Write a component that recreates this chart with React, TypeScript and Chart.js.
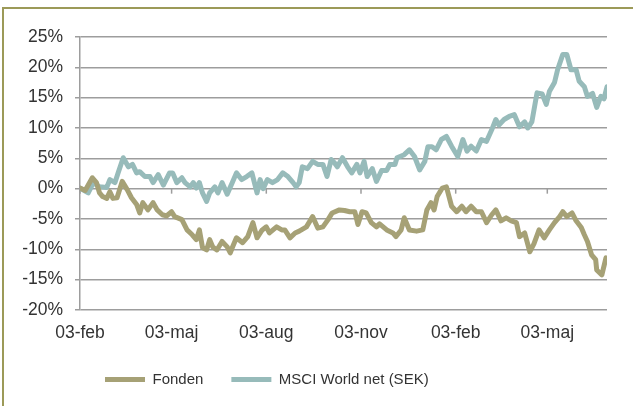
import React, { useEffect, useRef } from "react";
import { Chart, registerables } from "chart.js";

Chart.register(...registerables);

// x positions are days since the first 03-feb
const tickDays = [0, 89, 181, 273, 365, 454];
const tickLabels = ["03-feb", "03-maj", "03-aug", "03-nov", "03-feb", "03-maj"];

const fondenDays = [
  0, 5, 12, 16, 19, 22, 26, 29, 32, 36, 41, 46, 50, 55, 58, 61, 66, 71, 75, 80,
  84, 89, 92, 99, 104, 109, 113, 116, 119, 123, 126, 129, 133, 138, 143, 146, 148, 152, 158, 163,
  168, 172, 177, 181, 184, 191, 196, 199, 204, 209, 213, 220, 226, 231, 236, 241, 245, 252, 257, 262,
  267, 270, 274, 278, 283, 288, 291, 298, 304, 307, 312, 315, 320, 327, 333, 337, 341, 344, 347, 352,
  356, 361, 366, 371, 375, 380, 385, 390, 395, 400, 404, 409, 414, 419, 424, 427, 432, 437, 441, 446,
  451, 456, 461, 466, 469, 473, 478, 482, 487, 490, 493, 497, 501, 502, 507, 511,
];
const fondenValues = [
  0.1, -0.3, 1.8, 1.0, -0.7, -1.3, -1.6, -0.5, -1.6, -1.5, 1.2, -0.2, -1.5, -2.6, -4.0, -2.3, -3.5, -2.3, -3.5, -4.3,
  -4.5, -3.8, -4.6, -5.1, -6.8, -7.6, -8.4, -6.8, -9.7, -10.1, -8.4, -9.6, -10.1, -8.7, -9.6, -10.6, -9.7, -8.1, -8.9, -7.9,
  -5.6, -8.1, -6.8, -6.3, -7.3, -6.3, -6.8, -6.8, -8.1, -7.3, -7.0, -6.3, -4.6, -6.5, -6.3, -5.1, -4.0, -3.5, -3.6, -3.8,
  -3.8, -5.9, -3.8, -4.0, -5.6, -6.3, -5.8, -6.8, -7.3, -7.9, -6.8, -4.8, -6.8, -7.0, -6.8, -3.5, -2.3, -3.5, -1.3, 0.1,
  0.3, -2.9, -3.8, -2.9, -3.8, -2.9, -3.8, -3.8, -5.6, -4.3, -3.5, -5.3, -4.8, -5.3, -5.6, -7.9, -7.3, -10.4, -9.1, -6.8,
  -8.1, -6.8, -5.6, -4.6, -3.8, -4.6, -4.0, -5.3, -6.4, -7.6, -8.7, -10.9, -11.7, -13.4, -14.2, -11.4,
];

const msciDays = [
  0, 8, 13, 19, 26, 29, 34, 37, 42, 47, 51, 55, 58, 63, 68, 71, 76, 81, 87, 90,
  94, 99, 102, 107, 110, 113, 116, 119, 123, 126, 131, 134, 138, 143, 148, 152, 157, 162, 167, 172,
  175, 178, 182, 187, 192, 197, 202, 207, 210, 213, 216, 221, 226, 231, 236, 240, 244, 247, 250, 255,
  260, 264, 269, 272, 276, 279, 284, 288, 293, 298, 301, 306, 308, 315, 320, 325, 330, 335, 338, 342,
  346, 351, 356, 361, 367, 372, 376, 380, 385, 390, 395, 400, 404, 407, 412, 417, 422, 427, 432, 435,
  439, 444, 449, 453, 456, 461, 464, 469, 473, 477, 482, 485, 490, 493, 498, 502, 506, 509, 512,
];
const msciValues = [
  0.1, -0.7, 1.0, 0.3, 0.2, 1.5, 1.0, 2.6, 5.1, 3.6, 4.0, 2.6, 2.8, 2.0, 2.0, 1.0, 2.3, 0.6, 2.6, 2.6,
  1.0, 1.8, 1.0, 0.3, 1.0, 0.1, 1.0, -0.7, -2.1, -0.7, 0.3, -0.7, 1.0, -0.9, 1.0, 2.6, 1.5, 2.0, 2.6, -0.7,
  1.5, 0.0, 1.5, 1.0, 1.5, 2.6, 2.0, 1.0, 0.3, 1.0, 3.6, 3.3, 4.5, 4.0, 4.0, 2.0, 4.8, 4.3, 3.6, 5.1,
  3.6, 2.6, 4.0, 2.6, 4.5, 2.0, 3.3, 1.2, 3.0, 3.0, 4.0, 4.0, 5.1, 5.6, 6.4, 5.3, 3.1, 4.5, 6.9, 6.9,
  6.4, 8.1, 8.6, 7.0, 5.3, 8.1, 6.2, 7.0, 6.2, 8.1, 7.8, 9.7, 11.4, 10.5, 11.4, 11.9, 12.2, 10.2, 11.0, 10.0,
  11.0, 15.8, 15.6, 13.9, 16.0, 17.5, 19.6, 22.1, 22.1, 19.6, 19.6, 17.7, 16.8, 15.2, 15.7, 13.4, 15.2, 14.8, 16.8,
];

const seriesNames = ["Fonden", "MSCI World net (SEK)"];
const seriesColors = ["#A6A176", "#97BBBA"];

const FONT = "'Liberation Sans', Arial, sans-serif";
const TEXT = "#333333";
const GRID = "#9d9d9d";

const zeroTicks = {
  id: "zeroTicks",
  beforeDatasetsDraw(chart: any) {
    const x = chart.scales.x;
    const y = chart.scales.y;
    const y0 = y.getPixelForValue(0);
    const ctx = chart.ctx;
    ctx.save();
    ctx.strokeStyle = GRID;
    ctx.lineWidth = 1.5;
    x.ticks.forEach((t: any) => {
      const px = x.getPixelForValue(t.value);
      ctx.beginPath();
      ctx.moveTo(px, y0);
      ctx.lineTo(px, y0 + 5);
      ctx.stroke();
    });
    ctx.restore();
  },
};

const legendShift = {
  id: "legendShift",
  beforeDraw(chart: any) {
    const lg = chart.legend;
    if (lg) {
      const w = lg.right - lg.left;
      lg.left = 77;
      lg.right = 77 + w;
    }
  },
};

export default function App() {
  const ref = useRef<HTMLCanvasElement>(null);

  useEffect(() => {
    if (!ref.current) return;
    const chart = new Chart(ref.current, {
      type: "line",
      data: {
        datasets: [
          {
            label: seriesNames[0],
            data: fondenDays.map((d, i) => ({ x: d, y: fondenValues[i] })),
            borderColor: seriesColors[0],
            backgroundColor: seriesColors[0],
            borderWidth: 5,
            pointRadius: 0,
            tension: 0,
            borderJoinStyle: "round",
            borderCapStyle: "round",
          },
          {
            label: seriesNames[1],
            data: msciDays.map((d, i) => ({ x: d, y: msciValues[i] })),
            borderColor: seriesColors[1],
            backgroundColor: seriesColors[1],
            borderWidth: 5,
            pointRadius: 0,
            tension: 0,
            borderJoinStyle: "round",
            borderCapStyle: "round",
          },
        ],
      },
      options: {
        animation: false,
        responsive: false,
        maintainAspectRatio: false,
        layout: { padding: { top: 37, right: 26, bottom: 9, left: 0 } },
        plugins: {
          tooltip: { enabled: false },
          legend: {
            position: "bottom",
            align: "start",
            labels: {
              usePointStyle: true,
              pointStyle: "line",
              pointStyleWidth: 40,
              padding: 28,
              color: TEXT,
              font: { family: FONT, size: 15 },
            },
          },
        },
        scales: {
          x: {
            type: "linear",
            min: 0,
            max: 512,
            grid: { display: false, drawTicks: false },
            border: { display: false },
            afterBuildTicks: (s: any) => {
              s.ticks = tickDays.map((v) => ({ value: v }));
            },
            afterFit: (s: any) => {
              s.height = 34;
            },
            ticks: {
              padding: 13,
              maxRotation: 0,
              autoSkip: false,
              color: TEXT,
              font: { family: FONT, size: 17.5 },
              callback: (_v: any, i: number) => tickLabels[i],
            },
          },
          y: {
            min: -20,
            max: 25,
            afterFit: (s: any) => {
              s.width = 80;
            },
            grid: { color: GRID, lineWidth: 1.5, tickLength: 5 },
            border: { display: true, color: GRID, width: 1.5 },
            ticks: {
              stepSize: 5,
              padding: 12,
              color: TEXT,
              font: { family: FONT, size: 17.5 },
              callback: (v: any) => v + "%",
            },
          },
        },
      },
      plugins: [zeroTicks, legendShift],
    });
    return () => chart.destroy();
  }, []);

  return (
    <div
      style={{
        position: "fixed",
        left: 0,
        top: 0,
        width: 633,
        height: 406,
        overflow: "hidden",
        background: "#ffffff",
      }}
    >
      <div
        style={{
          position: "absolute",
          left: 2,
          top: 7,
          width: 700,
          height: 500,
          border: "2px solid #9c9a58",
          boxSizing: "border-box",
        }}
      />
      <canvas
        ref={ref}
        width={633}
        height={406}
        style={{ position: "absolute", left: 0, top: 0, width: 633, height: 406 }}
      />
    </div>
  );
}
